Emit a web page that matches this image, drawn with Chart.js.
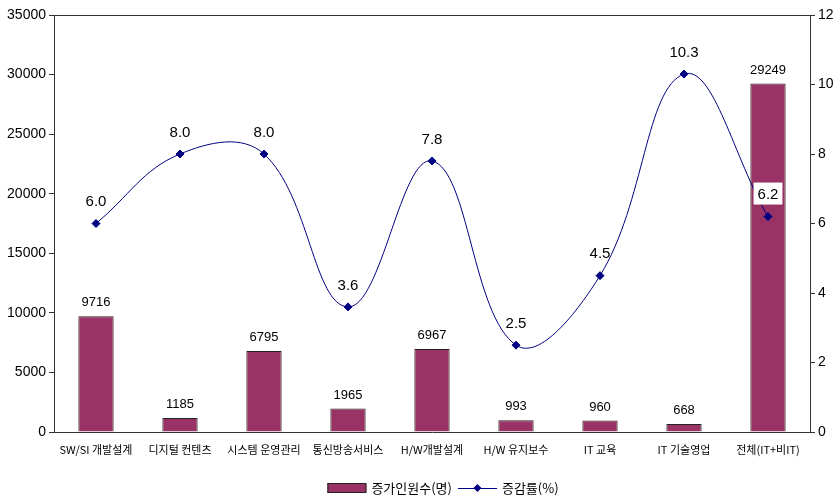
<!DOCTYPE html>
<html>
<head>
<meta charset="utf-8">
<script src="https://cdn.jsdelivr.net/npm/chart.js@4"></script>
<style>
  html, body { margin: 0; padding: 0; background: #fff; }
  #wrap { width: 838px; height: 497px; }
</style>
</head>
<body>
<div id="wrap"><canvas id="myChart" width="838" height="497"></canvas></div>
<script>
// categories and series
var categories = ['SW/SI 개발설계', '디지털 컨텐츠', '시스템 운영관리', '통신방송서비스', 'H/W개발설계', 'H/W 유지보수', 'IT 교육', 'IT 기술영업', '전체(IT+비IT)'];
var increaseCount = [9716, 1185, 6795, 1965, 6967, 993, 960, 668, 29249];
var increaseRate = [6.0, 8.0, 8.0, 3.6, 7.8, 2.5, 4.5, 10.3, 6.2];
var seriesNames = ['증가인원수(명)', '증감률(%)'];

var BAR_COLOR = '#993366';
var LINE_COLOR = '#000080';
var KR = "'Noto Sans CJK KR', 'Liberation Sans', sans-serif";
var NUM = "'Liberation Sans', Arial, sans-serif";

function diamond(ctx, x, y, r) {
    ctx.beginPath();
    ctx.moveTo(x, y - r);
    ctx.lineTo(x + r, y);
    ctx.lineTo(x, y + r);
    ctx.lineTo(x - r, y);
    ctx.closePath();
    ctx.fill();
}

// value labels, top frame line and a hand-drawn legend
var labelPlugin = {
    id: 'valueLabels',
    afterDatasetsDraw: function (chart) {
        var ctx = chart.ctx;
        var area = chart.chartArea;
        ctx.save();
        ctx.strokeStyle = '#333';
        ctx.lineWidth = 1;
        ctx.beginPath();
        ctx.moveTo(area.left, area.top + 0.5);
        ctx.lineTo(area.right, area.top + 0.5);
        ctx.stroke();

        ctx.textAlign = 'center';
        ctx.textBaseline = 'bottom';
        ctx.fillStyle = '#000';

        ctx.font = '13px ' + NUM;
        chart.getDatasetMeta(0).data.forEach(function (bar, i) {
            ctx.fillText(String(increaseCount[i]), bar.x, bar.y - 7);
        });

        ctx.font = '15px ' + NUM;
        chart.getDatasetMeta(1).data.forEach(function (pt, i) {
            var txt = increaseRate[i].toFixed(1);
            var y = pt.y - 14;
            if (i === increaseRate.length - 1) {
                var w = ctx.measureText(txt).width + 8;
                ctx.fillStyle = '#fff';
                ctx.fillRect(pt.x - w / 2, y - 20, w, 22);
                ctx.fillStyle = '#000';
            }
            ctx.fillText(txt, pt.x, y);
        });

        // legend
        ctx.font = '13px ' + KR;
        ctx.textAlign = 'left';
        ctx.textBaseline = 'middle';
        var swatch = 39, gap = 5, between = 6;
        var w0 = ctx.measureText(seriesNames[0]).width;
        var w1 = ctx.measureText(seriesNames[1]).width;
        var total = swatch + gap + w0 + between + swatch + gap + w1;
        var x = (area.left + area.right) / 2 + 11 - total / 2;
        var ly = 488;
        ctx.fillStyle = BAR_COLOR;
        ctx.fillRect(x, ly - 5, swatch, 10);
        ctx.strokeStyle = '#222';
        ctx.strokeRect(x + 0.5, ly - 4.5, swatch - 1, 9);
        x += swatch + gap;
        ctx.fillStyle = '#000';
        ctx.fillText(seriesNames[0], x, ly);
        x += w0 + between;
        ctx.strokeStyle = LINE_COLOR;
        ctx.beginPath();
        ctx.moveTo(x, ly + 0.5);
        ctx.lineTo(x + swatch, ly + 0.5);
        ctx.stroke();
        ctx.fillStyle = LINE_COLOR;
        diamond(ctx, x + swatch / 2, ly, 4);
        x += swatch + gap;
        ctx.fillStyle = '#000';
        ctx.fillText(seriesNames[1], x, ly);
        ctx.restore();
    }
};

var ctx = document.getElementById('myChart');

new Chart(ctx, {
    type: 'bar',
    data: {
        labels: categories,
        datasets: [{
            type: 'bar',
            label: seriesNames[0],
            data: increaseCount,
            backgroundColor: BAR_COLOR,
            borderColor: '#222',
            borderWidth: 1,
            barPercentage: 0.42,
            categoryPercentage: 1,
            yAxisID: 'y',
            order: 2
        }, {
            type: 'line',
            label: seriesNames[1],
            data: increaseRate,
            borderColor: LINE_COLOR,
            backgroundColor: LINE_COLOR,
            borderWidth: 1,
            tension: 0.4,
            pointStyle: 'rectRot',
            pointRadius: 4,
            pointHoverRadius: 4,
            yAxisID: 'y1',
            order: 1
        }]
    },
    options: {
        responsive: false,
        animation: false,
        layout: {
            padding: { left: 0, right: 0, top: 15, bottom: 35 }
        },
        plugins: {
            legend: { display: false },
            tooltip: { enabled: false }
        },
        scales: {
            x: {
                afterFit: function (s) { s.height = 30; },
                grid: { display: false, drawTicks: false },
                border: { color: '#333', width: 1 },
                ticks: {
                    color: '#000',
                    padding: 11,
                    maxRotation: 0,
                    autoSkip: false,
                    font: { family: KR, size: 11 }
                }
            },
            y: {
                position: 'left',
                min: 0,
                max: 35000,
                afterFit: function (s) { s.width = 54; },
                grid: { drawOnChartArea: false, tickLength: 5, color: '#333' },
                border: { color: '#333', width: 1 },
                ticks: {
                    stepSize: 5000,
                    color: '#000',
                    padding: 3,
                    font: { family: NUM, size: 14 },
                    callback: function (v) { return String(v); }
                }
            },
            y1: {
                position: 'right',
                min: 0,
                max: 12,
                afterFit: function (s) { s.width = 28; },
                grid: { drawOnChartArea: false, tickLength: 5, color: '#333' },
                border: { color: '#333', width: 1 },
                ticks: {
                    stepSize: 2,
                    color: '#000',
                    padding: 3,
                    font: { family: NUM, size: 14 },
                    callback: function (v) { return String(v); }
                }
            }
        }
    },
    plugins: [labelPlugin]
});
</script>
</body>
</html>
